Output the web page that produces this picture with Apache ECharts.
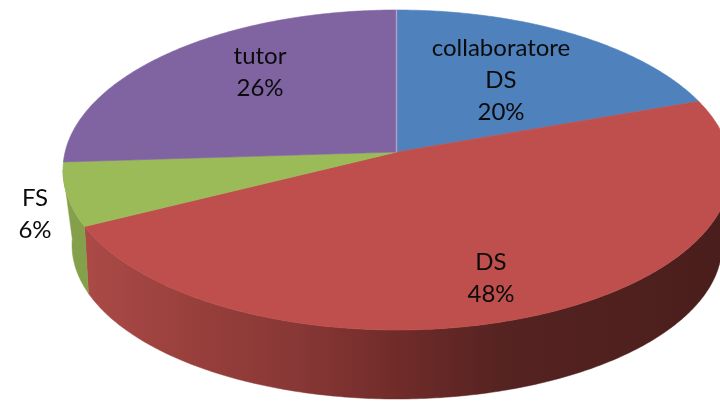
<!DOCTYPE html>
<html>
<head>
<meta charset="utf-8">
<style>html,body{margin:0;padding:0;background:#fff}#c{width:720px;height:402px}</style>
<script src="https://cdn.jsdelivr.net/npm/echarts@6/dist/echarts.min.js"></script>
</head>
<body>
<div id="c"></div>
<script>
var categories = ['collaboratore\nDS', 'DS', 'FS', 'tutor'];
var values = [19.6, 48, 6.4, 26];

var topColors = ['#4F81BD', '#BE4F4C', '#9BBB59', '#8064A2'];
var labelCenters = [[501, 80], [491, 278], [35, 214], [260, 72]];
var top3d = {cx: 397, cy: 170, rx: 334, ry: 160, twist: 0};
var bottom3d = {cx: 397, cy: 245, rx: 325, ry: 154, twist: 0.04};
var persp = 0.1125;
var total = values.reduce(function (a, b) { return a + b; }, 0);
var chart = echarts.init(document.getElementById('c'));

// Project a pie angle (clockwise from 12 o'clock, radians) onto a tilted rim.
function project(theta, rim) {
  var u = Math.sin(theta + rim.twist), v = Math.cos(theta + rim.twist);
  var d = 1 + persp * v;
  var up = u * Math.sqrt(1 - persp * persp) / d;
  var vp = (v + persp) / d;
  return [rim.cx + rim.rx * up, rim.cy - rim.ry * vp];
}
function sliceAngles(i) {
  var s = 0;
  for (var k = 0; k < i; k++) s += values[k];
  return [s / total * 2 * Math.PI, (s + values[i]) / total * 2 * Math.PI];
}
function arc(a0, a1, rim) {
  var pts = [], n = Math.max(4, Math.ceil((a1 - a0) * 90));
  for (var k = 0; k <= n; k++) pts.push(project(a0 + (a1 - a0) * k / n, rim));
  return pts;
}

var frontStart = Math.acos(-persp);
var frontEnd = 2 * Math.PI - frontStart;
var wallFills = {
  1: new echarts.graphic.LinearGradient(85, 0, 720, 0, [
    {offset: 0, color: '#AB4A47'},
    {offset: 0.18, color: '#973F3C'},
    {offset: 0.34, color: '#873735'},
    {offset: 0.5, color: '#6F2B29'},
    {offset: 0.66, color: '#552321'},
    {offset: 1, color: '#4A1E1C'}
  ], true),
  2: '#84A04B'
};

function renderWall(params, api) {
  var i = params.dataIndex, a = sliceAngles(i);
  var a0 = Math.max(a[0], frontStart), a1 = Math.min(a[1], frontEnd);
  if (!wallFills[i] || a1 <= a0) return {type: 'group', children: []};
  var pts = arc(a0, a1, top3d).concat(arc(a0, a1, bottom3d).reverse());
  return {type: 'polygon', shape: {points: pts}, style: {fill: wallFills[i], stroke: wallFills[i], lineWidth: 0.5}};
}

function renderTop(params, api) {
  var i = params.dataIndex, a = sliceAngles(i);
  var apex = [top3d.cx, top3d.cy - top3d.ry * persp];
  var pts = [apex].concat(arc(a[0], a[1], top3d));
  var kids = [{type: 'polygon', z2: 1, shape: {points: pts}, style: {fill: topColors[i], stroke: topColors[i], lineWidth: 0.6}}];
  if (i === 0) {
    kids.push({type: 'line', z2: 2, shape: {x1: apex[0] - 0.5, y1: apex[1], x2: apex[0] - 0.5, y2: top3d.cy - top3d.ry}, style: {stroke: '#A9A6CC', lineWidth: 1.4}});
  }
  return {type: 'group', children: kids};
}

function renderLabel(params, api) {
  var i = params.dataIndex;
  return {type: 'text', z2: 5, style: {
    x: labelCenters[i][0], y: labelCenters[i][1],
    text: categories[i] + '\n' + Math.round(api.value(1)) + '%',
    fill: '#0b0b0b', align: 'center', verticalAlign: 'middle',
    font: '24px Lato', lineHeight: 32
  }};
}

var seriesData = values.map(function (v, i) { return {name: categories[i], value: [i, v]}; });
chart.setOption({
  animation: false,
  backgroundColor: '#ffffff',
  tooltip: {show: false},
  series: [
    {type: 'custom', coordinateSystem: 'none', z: 1, silent: true, renderItem: renderWall, data: seriesData},
    {type: 'custom', coordinateSystem: 'none', z: 2, silent: true, renderItem: renderTop, data: seriesData},
    {type: 'custom', coordinateSystem: 'none', z: 3, silent: true, renderItem: renderLabel, data: seriesData}
  ]
});
</script>
</body>
</html>
